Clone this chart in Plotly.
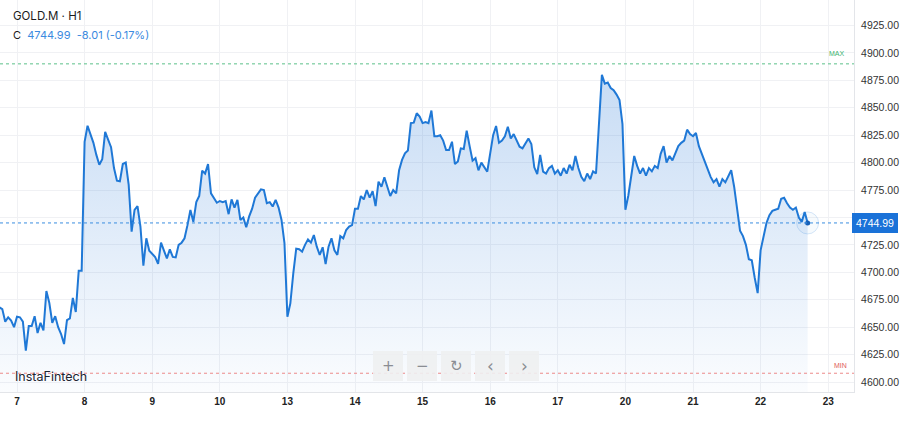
import plotly.graph_objects as go

# ---------------- data (hourly closes, GOLD.M H1) ----------------
day_labels = ["7", "8", "9", "10", "13", "14", "15", "16", "17", "20", "21", "22", "23"]
bars_per_day = 23

pre_day = [4668, 4666.5, 4655, 4659, 4656, 4650]  # tail of the previous session
day07 = [4659.5, 4659, 4655, 4628.5, 4651, 4651, 4660, 4644.7, 4654, 4647, 4683, 4672,
         4654, 4660, 4650, 4643.7, 4634.6, 4656.5, 4658, 4676.6, 4663.8, 4701.5, 4701.5]
day08 = [4819, 4833.6, 4826, 4818, 4807, 4798, 4803, 4828, 4821, 4814, 4795, 4783.5,
         4783, 4798.7, 4800, 4779.6, 4737, 4756.8, 4760.4, 4741.6, 4706, 4731, 4719.7]
day09 = [4716.7, 4714, 4707.6, 4727, 4719.7, 4712.7, 4721, 4714, 4713.6, 4725, 4727, 4731,
         4743, 4756.8, 4746, 4764, 4769.5, 4792.6, 4790, 4798.7, 4772, 4768, 4763.4]
day10 = [4765, 4764, 4765, 4753, 4766.5, 4759, 4766, 4747.7, 4750, 4741, 4751, 4758,
         4768, 4772, 4775.6, 4775, 4763, 4764, 4760, 4766, 4759, 4747.7, 4726.7]
day13 = [4659.5, 4671.7, 4699, 4721.5, 4721, 4718.8, 4725, 4730, 4727, 4734, 4723.4, 4715.8,
         4722.8, 4707.6, 4723.4, 4731, 4720, 4715.8, 4733, 4731, 4738.6, 4741.6, 4743]
day14 = [4758, 4758, 4769.5, 4766.5, 4775, 4768, 4774, 4760.4, 4782.6, 4778, 4786.5, 4778,
         4769.5, 4775, 4772, 4793, 4802.4, 4808.5, 4811, 4836, 4836.4, 4845, 4842]
day15 = [4836, 4837, 4836, 4847.4, 4824, 4824, 4825, 4820, 4811.5, 4811.5, 4819, 4798.7,
         4801, 4813, 4812.4, 4829, 4815, 4801.7, 4804, 4793, 4800, 4795.7, 4791.7]
day16 = [4808.4, 4825, 4833.4, 4818, 4820, 4824, 4832.7, 4822, 4826, 4820.6, 4814.5, 4813,
         4817, 4822, 4817, 4795.7, 4789.6, 4807, 4791.7, 4790, 4795, 4797, 4790]
day17 = [4793, 4788, 4795, 4790, 4798, 4793, 4806, 4795, 4787, 4783, 4790, 4785,
         4792, 4790, 4830, 4880, 4872, 4873, 4868, 4866, 4862, 4857, 4835]
day20 = [4757, 4770, 4790, 4806, 4797, 4790, 4795, 4788, 4795, 4792, 4797, 4795,
         4808, 4815, 4800, 4806, 4802, 4808, 4815, 4818, 4820, 4830, 4826]
day21 = [4824, 4827, 4815, 4808, 4802, 4795, 4787, 4782, 4785, 4778, 4785, 4782,
         4787, 4793, 4778, 4760, 4738, 4733, 4725, 4712, 4711, 4695, 4681]
day22 = [4720, 4733, 4745, 4752, 4756, 4757, 4758, 4767, 4768, 4763, 4759, 4757,
         4759, 4750, 4746, 4755, 4744.99]

sessions = [day07, day08, day09, day10, day13, day14, day15, day16, day17, day20, day21, day22]

last_close = 4744.99
change = -8.01
change_pct = -0.17
max_level = 4890
min_level = 4608

y_ticks = [4600, 4625, 4650, 4675, 4700, 4725, 4750, 4775, 4800, 4825, 4850, 4875, 4900, 4925, 4950]

# ---------------- build series ----------------
xs, ys = [], []
n_pre = len(pre_day)
for i, v in enumerate(pre_day):
    xs.append(-(n_pre - i) / bars_per_day)
    ys.append(v)
for d, sess in enumerate(sessions):
    for i, v in enumerate(sess):
        xs.append(d + i / bars_per_day)
        ys.append(v)

LINE = "#1f78d6"
PLOT_W, PLOT_H = 854, 392


def px(x):
    return x / PLOT_W


def py(y):
    return (PLOT_H - y) / PLOT_H


fig = go.Figure()
fig.add_trace(go.Scatter(
    x=xs, y=ys, mode="lines",
    line=dict(color=LINE, width=2),
    fill="tozeroy",
    fillgradient=dict(type="vertical", start=4591, stop=4880,
                      colorscale=[[0, "rgba(40,120,215,0.02)"], [1, "rgba(40,120,215,0.26)"]]),
    hoverinfo="skip", showlegend=False,
))
# last point marker + halo
fig.add_trace(go.Scatter(
    x=[xs[-1]], y=[ys[-1]], mode="markers",
    marker=dict(size=22, color="rgba(31,120,214,0.04)", line=dict(color="rgba(31,120,214,0.18)", width=1)),
    hoverinfo="skip", showlegend=False))
fig.add_trace(go.Scatter(
    x=[xs[-1]], y=[ys[-1]], mode="markers",
    marker=dict(size=5, color="#1560b8"),
    hoverinfo="skip", showlegend=False))

# reference lines
fig.add_shape(type="line", xref="paper", yref="y", x0=0, x1=1, y0=last_close, y1=last_close,
              line=dict(color="#3a8ee0", width=1, dash="dot"))
fig.add_shape(type="line", xref="paper", yref="y", x0=0, x1=1, y0=max_level, y1=max_level,
              line=dict(color="#5cc08a", width=1, dash="dot"))
fig.add_shape(type="line", xref="paper", yref="y", x0=0, x1=1, y0=min_level, y1=min_level,
              line=dict(color="#ec8a8a", width=1, dash="dot"))

fig.add_annotation(xref="paper", yref="y", x=px(847), y=max_level, yshift=5, text="MAX",
                   showarrow=False, xanchor="right", yanchor="bottom",
                   font=dict(size=7, color="#3db36f", family="Liberation Sans"))
fig.add_annotation(xref="paper", yref="y", x=px(849), y=min_level, yshift=2, text="MIN",
                   showarrow=False, xanchor="right", yanchor="bottom",
                   font=dict(size=7, color="#e05c5c", family="Liberation Sans"))

# price tag on axis (covers the 4750 label, as in the original)
fig.add_annotation(xref="paper", yref="y", x=px(852), y=last_close, text=f"{last_close:.2f}",
                   showarrow=False, xanchor="left", yanchor="middle",
                   bgcolor="#1a72d8", bordercolor="#1a72d8", borderpad=3,
                   font=dict(size=10.5, color="white", family="Liberation Sans"))

# header
fig.add_annotation(xref="paper", yref="paper", x=px(11), y=py(16), text="GOLD.M · H1",
                   showarrow=False, xanchor="left", yanchor="middle",
                   font=dict(size=11.5, color="#1b1b1b", family="Inter"))
fig.add_annotation(xref="paper", yref="paper", x=px(11), y=py(35),
                   text=f"C  <span style='color:#3b8ae0'>{last_close:.2f}  {change:.2f} ({change_pct:.2f}%)</span>",
                   showarrow=False, xanchor="left", yanchor="middle",
                   font=dict(size=11, color="#1b1b1b", family="Inter"))

# watermark
fig.add_annotation(xref="paper", yref="paper", x=px(13), y=py(376), text="InstaFintech",
                   showarrow=False, xanchor="left", yanchor="middle",
                   font=dict(size=12.5, color="#1d2430", family="Inter"))

# navigation buttons
buttons = [(373, 403, "+"), (407, 437, "−"), (441, 471, "↻"), (475, 505, "‹"), (509, 539, "›")]
for x0, x1, sym in buttons:
    fig.add_shape(type="rect", xref="paper", yref="paper", x0=px(x0), x1=px(x1), y0=py(381), y1=py(351),
                  fillcolor="rgba(238,239,241,0.9)", line=dict(width=0), layer="above")
    fig.add_annotation(xref="paper", yref="paper", x=px((x0 + x1) / 2), y=py(366), text=sym,
                       showarrow=False, xanchor="center", yanchor="middle",
                       font=dict(size=17 if sym in "‹›" else 15, color="#8a8d93", family="DejaVu Sans"))

fig.update_layout(
    width=900, height=428,
    margin=dict(l=0, r=46, t=0, b=36),
    paper_bgcolor="white", plot_bgcolor="white",
    xaxis=dict(
        range=[-17 / 67.6, 837 / 67.6],
        tickvals=list(range(len(day_labels))), ticktext=[f"<b>{t}</b>" for t in day_labels],
        showgrid=True, gridcolor="#f0f1f4", gridwidth=1,
        zeroline=False, showline=True, linecolor="#e3e5e9", linewidth=1,
        ticks="", tickfont=dict(size=10, color="#222", family="Liberation Sans"),
        fixedrange=True,
    ),
    yaxis=dict(
        side="right", range=[4590.9, 4948.2],
        tickvals=y_ticks,
        ticktext=["" if v == 4750 else f"{v:.2f}" for v in y_ticks],
        showgrid=True, gridcolor="#f0f1f4", gridwidth=1,
        zeroline=False, showline=True, linecolor="#e3e5e9", linewidth=1,
        ticks="", ticklabelstandoff=4,
        tickfont=dict(size=10.5, color="#333", family="Liberation Sans"),
        fixedrange=True,
    ),
)

fig.write_html("out.html", config={"displayModeBar": False},
               post_script="document.body.style.margin='0';document.body.style.overflow='hidden';")
